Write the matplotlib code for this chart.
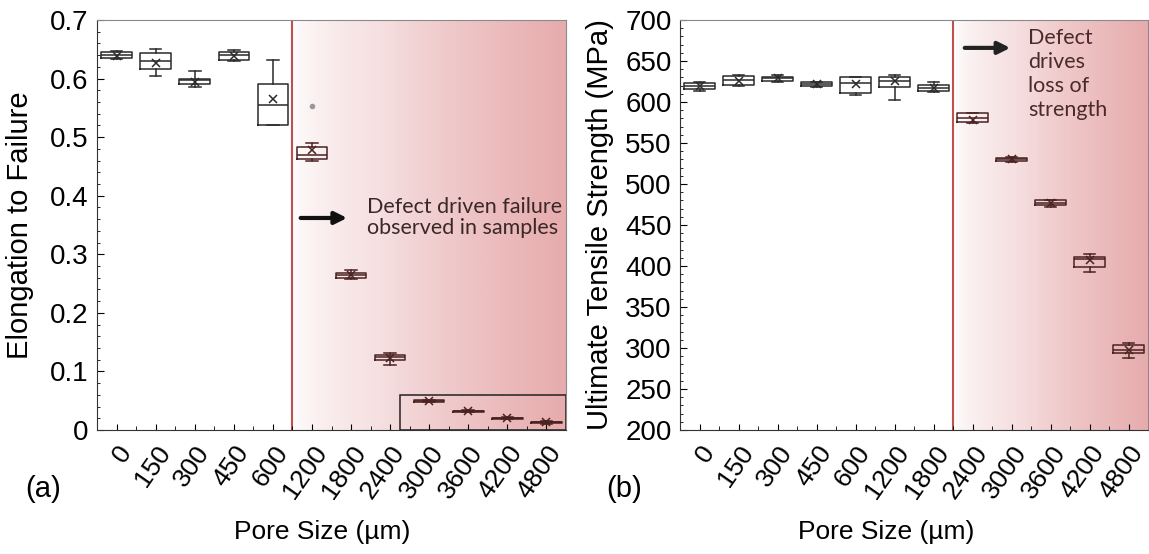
import numpy as np
import matplotlib.pyplot as plt
from matplotlib.colors import LinearSegmentedColormap

plt.rcParams['font.family'] = ['Liberation Sans', 'DejaVu Sans']

# Data
# -------------------------
pore_sizes = ['0', '150', '300', '450', '600', '1200', '1800', '2400',
              '3000', '3600', '4200', '4800']

# (a) elongation to failure
elong_q1 = [0.635, 0.617, 0.590, 0.632, 0.520, 0.463, 0.259, 0.119, 0.048, 0.031, 0.019, 0.012]
elong_med = [0.640, 0.630, 0.597, 0.640, 0.555, 0.470, 0.264, 0.124, 0.050, 0.032, 0.020, 0.013]
elong_q3 = [0.645, 0.643, 0.600, 0.645, 0.590, 0.483, 0.268, 0.128, 0.051, 0.033, 0.021, 0.014]
elong_lo = [0.633, 0.605, 0.585, 0.630, 0.520, 0.460, 0.257, 0.111, 0.047, 0.030, 0.018, 0.011]
elong_hi = [0.647, 0.650, 0.613, 0.648, 0.632, 0.490, 0.273, 0.131, 0.052, 0.034, 0.022, 0.015]
elong_mean = [0.638, 0.627, 0.595, 0.638, 0.565, 0.478, 0.265, 0.123, 0.050, 0.032, 0.020, 0.013]
elong_fliers = [[], [], [], [], [], [0.553], [], [], [], [], [], []]

# (b) ultimate tensile strength (MPa)
uts_q1 = [616, 621, 626, 619, 611, 618, 613, 576, 528, 474, 399, 294]
uts_med = [620, 627, 629, 622, 623, 626, 617, 580, 530, 477, 408, 298]
uts_q3 = [623, 632, 630, 624, 630, 630, 621, 586, 532, 480, 411, 304]
uts_lo = [614, 620, 625, 618, 608, 603, 612, 574, 527, 472, 393, 288]
uts_hi = [625, 633, 633, 625, 631, 633, 625, 587, 533, 481, 415, 306]
uts_mean = [619, 626, 629, 622, 622, 626, 617, 578, 530, 477, 407, 297]

W, H = 1149, 554
fig = plt.figure(figsize=(W / 100, H / 100), dpi=100)
ax_a = fig.add_axes([97 / W, (H - 430) / H, 469 / W, 410 / H])
ax_b = fig.add_axes([680 / W, (H - 430) / H, 468 / W, 410 / H])

pink = LinearSegmentedColormap.from_list('pink', ['#ffffff', '#f6e0e1', '#e7acad'])
grad = np.linspace(0, 1, 256).reshape(1, -1) ** 0.6


def draw_panel(ax, q1, med, q3, lo, hi, mean, fliers, split, ylim, dark_from):
    pos = np.arange(1, len(pore_sizes) + 1)
    ax.imshow(grad, cmap=pink, aspect='auto', zorder=0,
              extent=[split, len(pore_sizes) + 0.5, ylim[0], ylim[1]])
    ax.axvline(split, color='#c0504d', lw=1.5, zorder=1)
    for i in range(len(pore_sizes)):
        s = dict(q1=q1[i], med=med[i], q3=q3[i], whislo=lo[i], whishi=hi[i],
                 mean=mean[i], fliers=fliers[i] if fliers else [])
        c = '#2a2a2a' if i < dark_from else '#4a2222'
        ax.bxp([s], positions=[pos[i]], widths=0.78, capwidths=0.3, showmeans=True,
               boxprops=dict(color=c, lw=1.1),
               medianprops=dict(color=c, lw=1.1),
               whiskerprops=dict(color=c, lw=1.1),
               capprops=dict(color=c, lw=1.1),
               meanprops=dict(marker='x', markeredgecolor=c, markersize=6, mew=1.1),
               flierprops=dict(marker='o', markerfacecolor='#999999',
                               markeredgecolor='#999999', markersize=3))
    ax.set_xlim(0.5, len(pore_sizes) + 0.5)
    ax.set_ylim(*ylim)
    ax.set_xticks(pos)
    ax.set_xticklabels(pore_sizes, rotation=55, ha='right', va='top',
                       rotation_mode='anchor', fontsize=19)
    ax.set_xticks(pos[:-1] + 0.5, minor=True)
    ax.tick_params(axis='both', which='both', direction='in')
    ax.tick_params(axis='y', labelsize=20)
    ax.tick_params(axis='x', which='major', length=4, pad=8)
    ax.tick_params(axis='x', which='minor', length=3)
    ax.tick_params(axis='y', which='major', length=5, pad=6)
    ax.tick_params(axis='y', which='minor', length=2.5)
    for side in ['top', 'right']:
        ax.spines[side].set_color('#8a8a8a')
    for side in ['left', 'bottom']:
        ax.spines[side].set_color('#333333')
    ax.set_xlabel('Pore Size (µm)', fontsize=19)


draw_panel(ax_a, elong_q1, elong_med, elong_q3, elong_lo, elong_hi, elong_mean,
           elong_fliers, 5.5, (0, 0.7), 5)
ax_a.set_yticks(np.arange(0, 0.71, 0.1))
ax_a.set_yticklabels(['0', '0.1', '0.2', '0.3', '0.4', '0.5', '0.6', '0.7'])
ax_a.set_yticks(np.arange(0, 0.7, 0.02), minor=True)
ax_a.set_ylabel('Elongation to Failure', fontsize=21)
ax_a.yaxis.set_label_coords(-0.135, 0.5)
ax_a.xaxis.set_label_coords(0.48, -0.22)
ax_a.add_patch(plt.Rectangle((8.25, 0), 4.25, 0.06, fill=False, ec='#222222',
                             lw=1.1, zorder=3))
ax_a.annotate('', xy=(6.97, 0.362), xytext=(5.64, 0.362),
              arrowprops=dict(arrowstyle='-|>', color='#111111', lw=3,
                              mutation_scale=18))
ax_a.text(7.41, 0.398, 'Defect driven failure\nobserved in samples', family='Lato',
          fontsize=15.5, color='#3a2828', va='top', ha='left', linespacing=1.05)
ax_a.text(-0.115, -0.145, '(a)', transform=ax_a.transAxes, fontsize=21,
          ha='center', va='center')

draw_panel(ax_b, uts_q1, uts_med, uts_q3, uts_lo, uts_hi, uts_mean, None,
           7.5, (200, 700), 7)
ax_b.set_yticks(np.arange(200, 701, 50))
ax_b.set_yticks(np.arange(200, 700, 10), minor=True)
ax_b.set_ylabel('Ultimate Tensile Strength (MPa)', fontsize=21)
ax_b.yaxis.set_label_coords(-0.14, 0.5)
ax_b.xaxis.set_label_coords(0.44, -0.22)
ax_b.annotate('', xy=(9.04, 666), xytext=(7.73, 666),
              arrowprops=dict(arrowstyle='-|>', color='#222222', lw=3,
                              mutation_scale=18))
ax_b.text(9.42, 690, 'Defect\ndrives\nloss of\nstrength', family='Lato',
          fontsize=15.5, color='#4a2a2a', va='top', ha='left', linespacing=1.25)
ax_b.text(-0.12, -0.145, '(b)', transform=ax_b.transAxes, fontsize=21,
          ha='center', va='center')

plt.savefig('out.png', dpi=100)
